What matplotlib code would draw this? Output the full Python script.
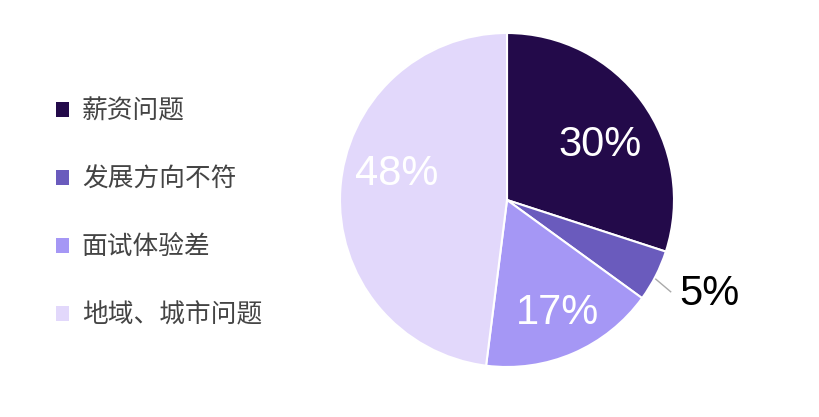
import numpy as np
import matplotlib.pyplot as plt
from matplotlib.patches import Patch

plt.rcParams['font.family'] = ['Noto Sans CJK SC', 'DejaVu Sans']

categories = ["薪资问题", "发展方向不符", "面试体验差", "地域、城市问题"]
shares = [30, 5, 17, 48]
colors = ["#230a4a", "#6a5bbd", "#a597f5", "#e2d8fb"]
label_colors = ["white", "black", "white", "white"]
# small nudges of the percent labels (in radius units)
label_nudge = [(0.01, -0.07), (0.03, 0.04), (0.035, -0.05), (0.02, 0.115)]

fig = plt.figure(figsize=(8.2, 4.17), dpi=100)
ax = fig.add_axes([340 / 820, 50 / 417, 334 / 820, 334 / 417])

wedges, texts, autotexts = ax.pie(
    shares, colors=colors, startangle=90, counterclock=False,
    autopct="%d%%", pctdistance=0.68, radius=1.0,
    wedgeprops=dict(edgecolor="white", linewidth=1.5),
    textprops=dict(fontsize=30, family=["Liberation Sans", "DejaVu Sans"]),
)
ax.set_xlim(-1, 1)
ax.set_ylim(-1, 1)
ax.set_aspect("equal")

for i, (w, t) in enumerate(zip(wedges, autotexts)):
    t.set_color(label_colors[i])
    mid = np.deg2rad((w.theta1 + w.theta2) / 2)
    r = 1.33 if shares[i] < 10 else 0.68
    t.set_position((r * np.cos(mid) + label_nudge[i][0], r * np.sin(mid) + label_nudge[i][1]))

# the small slice gets its label outside with a thin leader line
w = wedges[1]
mid = np.deg2rad((w.theta1 + w.theta2) / 2)
x0, y0 = np.cos(mid), np.sin(mid)
ax.plot([1.0 * x0, 1.1 * x0], [1.0 * y0 - 0.02, 1.1 * y0 - 0.05],
        color="#aaaaaa", lw=1, clip_on=False)

handles = [Patch(facecolor=c, edgecolor="none") for c in colors]
fig.legend(handles, categories, loc="center left", bbox_to_anchor=(0.068, 0.488),
           frameon=False, fontsize=18.5, labelcolor="#444444", labelspacing=1.63,
           handlelength=0.52, handleheight=0.52, handletextpad=0.5,
           borderpad=0, borderaxespad=0)

fig.savefig("out.png", dpi=100)
